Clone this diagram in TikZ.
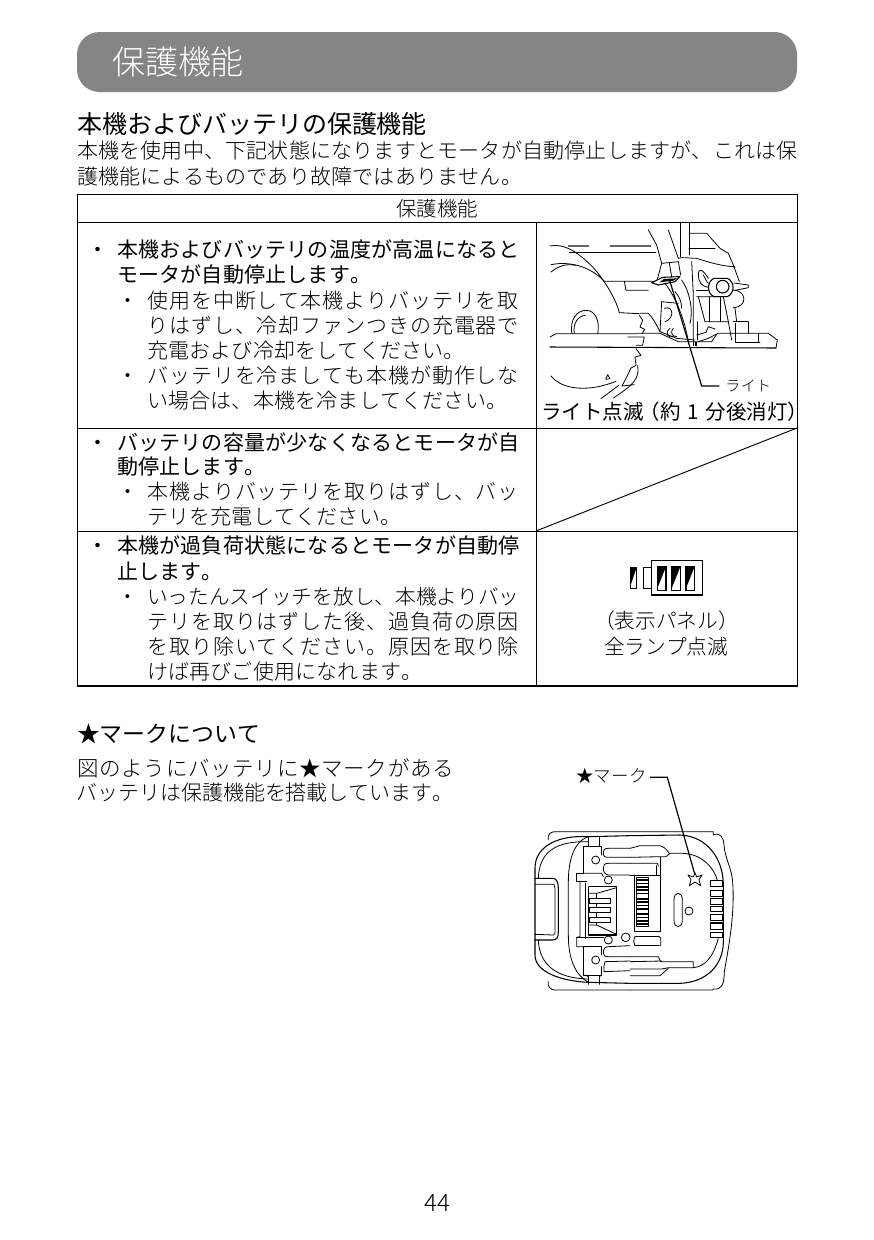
\documentclass[tikz,border=0pt]{standalone}
\usepackage{fontspec}
\newfontfamily\jp{Noto Sans CJK JP Light}
\newfontfamily\jpn{Noto Sans CJK JP}
\newfontfamily\jpm{Noto Sans CJK JP}
\newdimen\chp
\def\chloop#1{\ifx#1\relax\else\hbox to \chp{\hss#1\hss}\expandafter\chloop\fi}
\newcommand\jfont[1]{\pgfmathsetmacro\fsz{#1*0.75}\fontsize{\fsz pt}{\fsz pt}\selectfont}
\newcommand\setp[1]{\chp=\dimexpr #1pt*3/4\relax}
% \tl{name}{font}{x}{ycentre}{size}{pitch}{text}
\newcommand\tl[7]{\pgfmathsetmacro\by{#4+0.38*#5}%
  \node[tx,anchor=base west] (#1) at (#3,\by) {#2\jfont{#5}\setp{#6}\chloop#7\relax};}
\tikzset{x=0.75pt,y=-0.75pt,
 tx/.style={inner sep=0pt,outer sep=0pt,black},
 tb/.style={line width=0.7pt,black},
 ln/.style={line width=0.6pt,black,line cap=round,line join=round},
 lth/.style={line width=0.8pt,black,line cap=round,line join=round}}
\begin{document}
\begin{tikzpicture}
\useasboundingbox (0,0) rectangle (874,1240);
\fill[white] (0,0) rectangle (874,1240);
% title bar
\fill[black!48,rounded corners=16.875pt] (77,32) rectangle (797,92);
\node[tx,anchor=base west,white] (title) at (112,74) {\jp\jfont{33}\setp{33}\color{white}\chloop 保護機能\relax};
\tl{h1}{\jpn}{77}{124}{25}{25}{本機およびバッテリの保護機能}
\tl{b1}{\jp}{77}{151}{21}{21.2}{本機を使用中、下記状態になりますとモータが自動停止しますが、これは保}
\tl{b2}{\jp}{77}{177}{21}{21.2}{護機能によるものであり故障ではありません。}
% table
\draw[tb] (77,194) rectangle (797,686);
\draw[tb] (77,222) -- (797,222);
\draw[tb] (77,428) -- (797,428);
\draw[tb] (77,531) -- (797,531);
\draw[tb] (536,222) -- (536,686);
\draw[line width=1.1pt] (77,686) -- (797,686);
\draw[tb] (536,531) -- (797,428);
\tl{th}{\jp}{396}{209}{20.5}{20.5}{保護機能}
% cell 1
\tl{c1b}{\jpm}{87}{250}{21}{21.2}{・}
\tl{c1a}{\jpm}{117}{250}{21}{21.2}{本機およびバッテリの温度が高温になると}
\tl{c1c}{\jpm}{117}{275}{21}{21.2}{モータが自動停止します。}
\tl{c1d}{\jp}{117}{301}{21}{21.9}{・}
\tl{c1e}{\jp}{147}{301}{21}{21.9}{使用を中断して本機よりバッテリを取}
\tl{c1f}{\jp}{147}{326}{21}{21.9}{りはずし、冷却ファンつきの充電器で}
\tl{c1g}{\jp}{147}{351}{21}{21.2}{充電および冷却をしてください。}
\tl{c1h}{\jp}{117}{376}{21}{21.9}{・}
\tl{c1i}{\jp}{147}{376}{21}{21.9}{バッテリを冷ましても本機が動作しな}
\tl{c1j}{\jp}{147}{401}{21}{21.2}{い場合は、本機を冷ましてください。}
% cell 2
\tl{c2b}{\jpm}{87}{443}{21}{21.2}{・}
\tl{c2a}{\jpm}{117}{443}{21}{21.2}{バッテリの容量が少なくなるとモータが自}
\tl{c2c}{\jpm}{117}{467}{21}{21.2}{動停止します。}
\tl{c2d}{\jp}{117}{492}{21}{21.9}{・}
\tl{c2e}{\jp}{147}{492}{21}{21.9}{本機よりバッテリを取りはずし、バッ}
\tl{c2f}{\jp}{147}{517}{21}{21.2}{テリを充電してください。}
% cell 3
\tl{c3b}{\jpm}{87}{546}{21}{21.2}{・}
\tl{c3a}{\jpm}{117}{546}{21}{21.2}{本機が過負荷状態になるとモータが自動停}
\tl{c3c}{\jpm}{117}{572}{21}{21.2}{止します。}
\tl{c3d}{\jp}{117}{597}{20.7}{20.7}{・}
\tl{c3e}{\jp}{147}{597}{20.7}{20.7}{いったんスイッチを放し、本機よりバッ}
\tl{c3f}{\jp}{147}{622}{21}{21.9}{テリを取りはずした後、過負荷の原因}
\tl{c3g}{\jp}{147}{647}{21}{21.9}{を取り除いてください。原因を取り除}
\tl{c3h}{\jp}{147}{672}{21}{21.2}{けば再びご使用になれます。}
% saw drawing
\begin{scope}[shift={(536,222)},x=0.25pt,y=-0.25pt]
\draw[ln] (42,72) .. controls (85,62) and (130,95) .. (165,130) .. controls (200,165) and (240,230) .. (250,272) -- (310,275);
\draw[line width=0.8pt,black!60] (95,72) -- (160,72) (222,72) -- (345,72);
\draw[ln] (100,92) -- (360,92);
\draw[ln] (45,128) .. controls (110,115) and (170,140) .. (205,178) -- (350,178);
\draw[ln] (45,150) .. controls (70,130) and (90,125) .. (120,130);
\draw[ln] (265,178) -- (270,205) -- (337,205);
% wheel
\draw[ln] (108,335) .. controls (100,290) and (125,265) .. (150,265) .. controls (180,265) and (192,300) .. (185,335);
\draw[ln] (115,335) .. controls (110,305) and (125,282) .. (148,280);
\draw[ln] (310,280) -- (320,295) -- (312,315) -- (326,322) -- (318,335);
\draw[ln] (275,345) -- (325,345) -- (320,370) -- (300,370);
% base left
\draw[ln] (42,345) -- (60,335) -- (305,335);
% blade
\draw[ln] (45,462) .. controls (80,505) and (160,510) .. (240,478);
\draw[ln] (300,380) -- (315,400) -- (297,405) -- (300,430) -- (285,438) -- (272,465) -- (258,492);
\draw[ln] (305,430) .. controls (312,470) and (290,490) .. (232,528);
\draw[ln] (248,490) -- (195,530);
\draw[ln] (258,492) -- (295,488);
\draw[ln] (210,470) -- (215,458) -- (222,470) -- (210,472);
\draw[lth] (42,375) -- (720,378);
\begin{scope}[shift={(312,9)}]
\draw[ln] (25,15) -- (50,60) -- (65,115);
\draw[ln] (85,15) -- (115,100);
\draw[ln] (122,-9) -- (122,95);
\draw[ln] (147,-9) -- (147,90);
\draw[ln] (147,25) -- (200,25) -- (240,70) -- (265,85) -- (280,120) -- (298,170);
\draw[ln] (147,70) -- (225,70);
\draw[ln] (115,100) .. controls (130,95) and (145,100) .. (170,100) .. controls (200,110) and (250,125) .. (285,125);
\draw[ln] (65,115) -- (115,110) -- (122,150);
\draw[ln] (65,115) -- (50,170);
\draw[ln] (88,115) -- (95,155);
% slot
\draw[ln] (205,160) .. controls (190,135) and (175,125) .. (175,150) .. controls (175,170) and (185,185) .. (205,187);
\draw[ln] (190,150) .. controls (195,160) and (200,170) .. (205,175);
% light
\draw[lth,fill=white] (35,173) -- (68,157) -- (120,155) -- (105,170) -- (55,180) -- cycle;
\fill[black] (58,172) -- (72,162) -- (112,160) -- (100,167) -- cycle;
\draw[ln] (75,175) .. controls (110,220) and (135,290) .. (145,350);
\draw[ln] (125,165) .. controls (150,200) and (160,260) .. (150,295);
\draw[ln] (155,110) -- (160,210) -- (160,350);
\draw[ln] (105,200) .. controls (118,215) and (125,230) .. (125,250);
% lower mechanism
\draw[ln] (65,230) -- (115,235);
\draw[ln] (65,230) -- (60,320) -- (110,340) -- (165,345);
\draw[ln] (73,250) .. controls (100,240) and (105,280) .. (75,290);
\draw[ln] (170,195) -- (205,195);
\draw[ln] (170,215) -- (250,215) -- (265,290) -- (275,345);
\draw[ln] (175,215) -- (195,290) -- (265,290);
\draw[ln] (208,215) -- (208,290);
\draw[ln] (240,218) -- (240,290);
\draw[ln] (172,290) -- (172,345);
% knob
\draw[ln,fill=white] (278,195) .. controls (320,195) and (325,245) .. (280,248);
\draw[ln] (285,250) -- (290,290);
\draw[lth,fill=white] (222,160) .. controls (200,170) and (200,205) .. (222,215) -- (262,215) .. controls (285,205) and (285,170) .. (262,160) -- cycle;
\draw[lth,fill=white] (248,185) circle (19);
\draw[ln,fill=white] (282,174) -- (325,180) -- (325,188) -- (285,196);
% base right
\draw[ln] (25,265) -- (0,265) (25,265) .. controls (40,280) and (50,300) .. (60,320);
\draw[ln] (-5,325) -- (60,325) -- (115,350) -- (215,350) -- (232,325) -- (360,325);
\draw[line width=1pt] (280,290) -- (325,290);
\draw[ln] (325,290) -- (325,325);
\draw[ln] (285,295) -- (285,352) -- (360,352);
\draw[ln] (360,325) -- (385,325) -- (412,345) -- (408,369);
\draw[ln] (355,325) -- (355,352);
\draw[ln] (90,310) .. controls (72,325) and (85,340) .. (100,335);
\draw[ln] (100,310) .. controls (90,320) and (95,335) .. (110,335);
\draw[ln] (170,330) -- (198,322) -- (205,305) -- (225,312);
\draw[ln] (175,350) -- (205,340) -- (228,328);
\draw[lth] (160,352) -- (160,362) (168,352) -- (168,362);
\end{scope}
% leader
\coordinate (ldA) at (400,172);
\coordinate (ldB) at (497,492);
\coordinate (ldC) at (550,492);
\draw[line width=0.9pt,black] (ldA) -- (ldB) -- (ldC);
\end{scope}
\tl{lite}{\jp}{725}{386}{15}{15.5}{ライト}
\pgfmathsetmacro\tmpA{412+0.38*20.5}
\node[tx,anchor=base west] (blink) at (541,\tmpA) {\jpm\jfont{20.5}\setp{20.5}\chloop ライト点滅\relax\hbox to 12.5pt{\hss（}\chloop 約\relax\hbox to 19pt{\hss 1\hss}\chloop 分後消灯\relax\hbox to 8pt{）\hss}};
% panel
\begin{scope}[shift={(600,550)},x=0.25pt,y=-0.25pt]
\draw[line width=1pt] (155,32) rectangle (307,135);
\draw[line width=0.8pt,fill=white] (131,52) rectangle (155,115);
\foreach \px/\pw/\ptop/\pbot in {91/19/52/115,172/26/50/122,215/26/50/122,258/26/50/122}{
  \fill[black] (\px,\ptop) -- (\px+\pw,\ptop) -- (\px,\pbot-7) -- cycle;
  \draw[line width=0.8pt] (\px,\ptop) rectangle (\px+\pw,\pbot);
}
\end{scope}
\tl{pan1}{\jp}{594}{621}{20.7}{20.7}{（表示パネル）}
\tl{pan2}{\jp}{604}{647}{20.7}{20.7}{全ランプ点滅}
% star section
\tl{h2}{\jpn}{77}{734}{22.9}{22.9}{★マークについて}
\tl{m1}{\jp}{77}{768}{21.5}{22.2}{図のようにバッテリに★マークがある}
\tl{m2}{\jp}{77}{793}{21}{20.9}{バッテリは保護機能を搭載しています。}
\tl{mk}{\jp}{576}{776}{17.5}{17.7}{★マーク}
% battery
\begin{scope}[shift={(520,760)},x=0.25pt,y=-0.25pt]
% left half
\begin{scope}[shift={(30,195)}]
\draw[ln] (55,45) .. controls (52,28) and (62,20) .. (75,20) -- (300,20);
\draw[ln] (55,470) .. controls (52,485) and (62,495) .. (75,495) -- (300,495);
\draw[lth] (175,35) .. controls (90,30) and (15,60) .. (15,130) -- (15,390) .. controls (15,440) and (90,468) .. (175,472) -- (300,475);
\draw[ln] (175,50) .. controls (70,48) and (28,85) .. (25,160);
\draw[ln] (25,345) .. controls (28,420) and (80,460) .. (175,462);
\draw[ln] (175,35) .. controls (130,50) and (115,110) .. (115,170) -- (115,330) .. controls (115,400) and (135,450) .. (175,472);
\draw[lth] (175,35) -- (300,32);
\draw[ln] (175,35) -- (175,65) (208,35) -- (208,65) (175,455) -- (175,478) (208,455) -- (208,478);
% strap
\draw[lth] (15,160) -- (68,160) .. controls (80,160) and (85,172) .. (85,190) -- (85,320) .. controls (85,338) and (80,345) .. (68,345) -- (15,345);
\draw[ln] (15,178) -- (72,178) -- (75,190) -- (75,325) -- (70,330) -- (15,328);
% frame
\draw[ln] (215,90) -- (215,65) -- (160,65) -- (160,145) -- (140,145) -- (140,168) -- (170,168);
\draw[ln] (160,145) -- (215,145) -- (220,155);
\draw[ln] (150,168) -- (150,335) -- (140,337) -- (140,365) -- (175,365);
\draw[ln] (165,175) -- (165,340);
\draw[ln] (140,337) -- (222,337);
\draw[ln] (160,365) -- (160,450) -- (215,450) -- (215,425);
\draw[ln] (160,365) -- (215,365) -- (215,390);
\draw[ln] (165,450) -- (175,455) (208,455) -- (215,450);
% connector
\draw[lth] (175,185) -- (260,185) -- (260,330) -- (175,330) -- cycle;
\draw[ln] (175,205) -- (200,205) -- (260,188);
\draw[ln] (175,300) -- (200,300) -- (260,328);
\draw[ln] (198,205) -- (198,300);
\foreach \fy/\fb in {220/235,248/262,276/292}{\draw[ln,fill=white] (178,\fy) rectangle (240,\fb);}
% circles
\foreach \cx/\cy/\cr in {197/105/12,235/165/12,235/345/12,287/337/13,197/405/12}{\draw[ln,fill=white] (\cx,\cy) circle (\cr);}
% slots
\draw[ln] (300,70) -- (235,70) .. controls (222,70) and (220,75) .. (220,84) .. controls (220,95) and (225,97) .. (235,97) -- (300,97);
\draw[ln] (300,115) -- (235,115) .. controls (222,115) and (220,122) .. (220,130) .. controls (220,142) and (225,148) .. (235,150) -- (300,150);
\draw[ln] (300,362) -- (235,365) .. controls (225,366) and (220,370) .. (220,378) .. controls (220,392) and (225,395) .. (235,395) -- (300,395);
\draw[ln] (225,410) -- (300,408);
\draw[ln] (222,440) -- (300,437);
\draw[ln] (225,410) .. controls (222,420) and (220,430) .. (222,440);
\end{scope}
% right half
\begin{scope}[shift={(330,195)}]
\draw[ln] (0,20) -- (250,20) -- (250,30) .. controls (270,22) and (280,35) .. (282,60) .. controls (285,100) and (305,130) .. (308,170) .. controls (315,270) and (295,370) .. (283,440) .. controls (282,480) and (275,495) .. (250,492) -- (248,495) -- (0,495);
\draw[lth] (0,32) -- (150,30) .. controls (230,33) and (280,100) .. (280,180) -- (280,350) .. controls (280,420) and (230,472) .. (150,475) -- (0,475);
\draw[ln] (120,85) -- (160,85) .. controls (215,88) and (250,125) .. (262,165);
\draw[ln] (265,340) .. controls (250,395) and (225,425) .. (190,428);
% top slots
\draw[ln] (0,70) -- (30,62) -- (88,62) .. controls (100,63) and (108,72) .. (118,85);
\draw[ln] (0,97) -- (90,95) -- (108,95) -- (120,85);
\draw[ln] (0,115) -- (82,115) -- (85,122);
\draw[ln] (92,97) -- (92,150);
\draw[ln] (0,150) -- (92,150) -- (92,320) -- (12,320) -- (12,150);
\draw[ln] (80,122) -- (80,150);
% comb
\draw[ln] (20,158) rectangle (55,305);
\foreach \ty in {163,173,183,193,203,219,229,239,249,265,275,285,295}{\fill[black] (20,\ty) rectangle (55,\ty+4.5);}
% oval and circle
\draw[ln] (132,225) .. controls (132,198) and (157,198) .. (157,225) -- (157,285) .. controls (157,312) and (132,312) .. (132,285) -- cycle;
\draw[ln] (177,258) circle (12);
% lower slots
\draw[ln] (15,335) -- (88,335) (15,362) -- (88,362);
\draw[ln] (15,335) .. controls (10,345) and (10,355) .. (15,362);
\draw[ln] (88,335) -- (92,340) -- (92,362);
\draw[ln] (0,395) -- (85,395) -- (92,410) -- (190,410) -- (190,428);
\draw[ln] (0,410) -- (95,408);
\draw[ln] (0,432) -- (95,432) -- (115,428) -- (190,428);
\draw[ln] (0,452) -- (90,452) -- (115,430);
% contacts
\foreach \ry/\rb in {167/185,197/213,220/237,243/260,267/285,322/337}{\draw[ln,fill=white] (242,\ry) rectangle (278,\rb);}
\draw[ln,fill=white] (242,293) rectangle (278,313);
\fill[black] (242,293) rectangle (278,298);
\end{scope}
% hollow star
\draw[ln,fill=white] (525,338) -- (530,351) -- (546,345) -- (537,359) -- (542,377) -- (525,366) -- (508,377) -- (513,359) -- (504,345) -- (520,351) -- cycle;
% leader
\coordinate (lmA) at (390,52);
\coordinate (lmB) at (442,52);
\coordinate (lmC) at (525,345);
\draw[line width=0.9pt] (lmA) -- (lmB) -- (lmC);
\end{scope}
% page number
\node[tx,anchor=base] (pg) at (437,1211) {\jp\jfont{24}44};
\end{tikzpicture}
\end{document}
